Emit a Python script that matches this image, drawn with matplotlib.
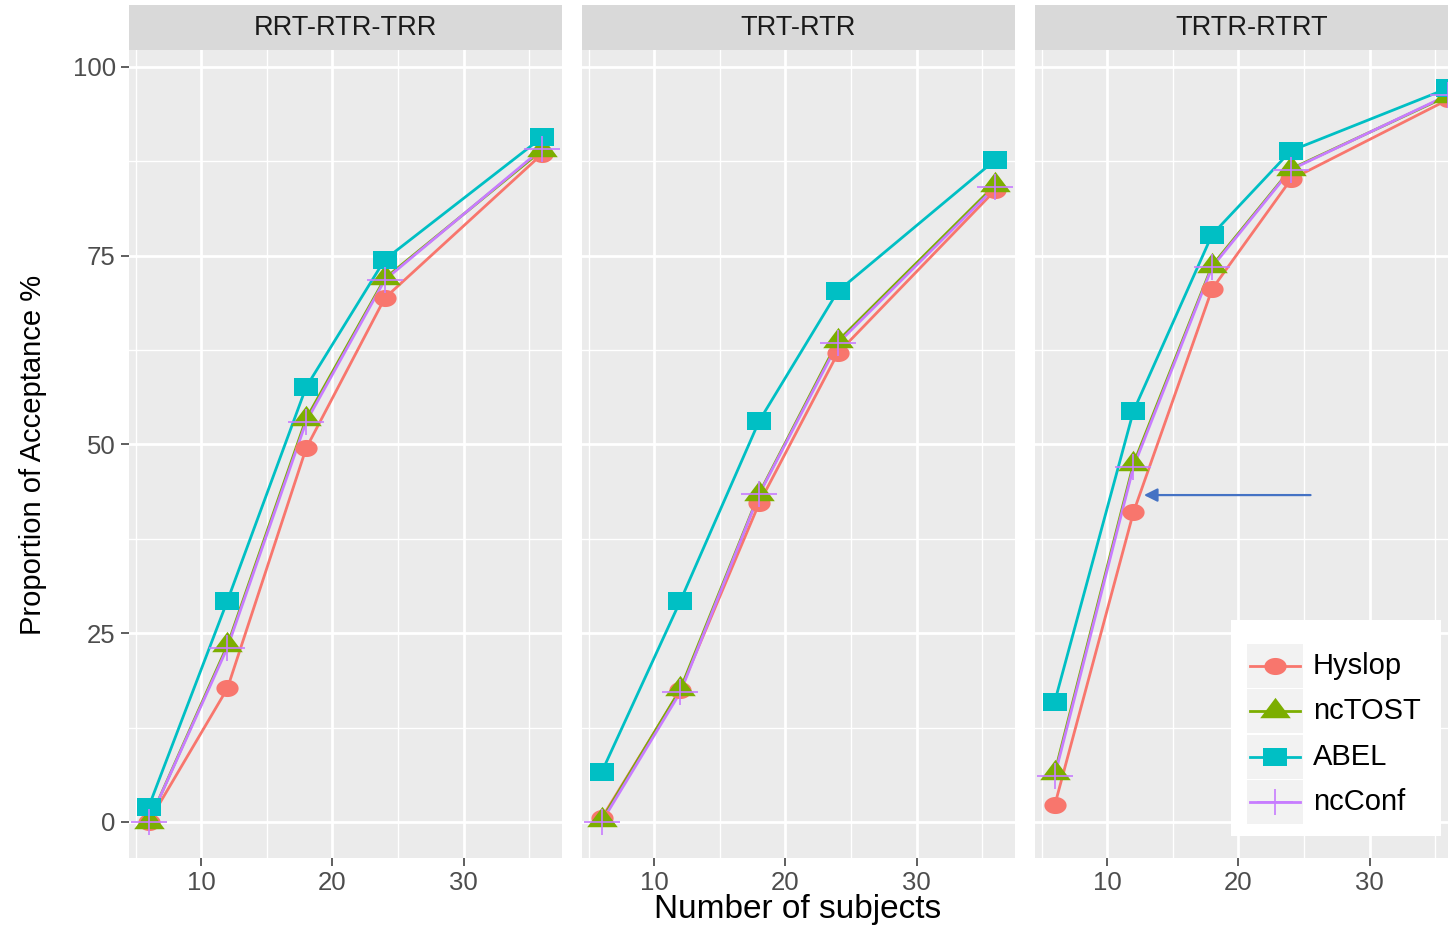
import numpy as np
import matplotlib
matplotlib.use("Agg")
import matplotlib.pyplot as plt
from matplotlib.path import Path
from matplotlib.lines import Line2D
from matplotlib.patches import Rectangle

plt.rcParams['font.family'] = ['Liberation Sans', 'DejaVu Sans']

# data
subjects = [6, 12, 18, 24, 36]
designs = ["RRT-RTR-TRR", "TRT-RTR", "TRTR-RTRT"]
methods = ["Hyslop", "ncTOST", "ABEL", "ncConf"]

hyslop = [[0.0, 17.7, 49.5, 69.4, 88.5],
          [0.5, 17.5, 42.2, 62.1, 83.7],
          [2.2, 41.0, 70.6, 85.1, 95.7]]
nctost = [[0.0, 23.4, 53.4, 72.0, 89.0],
          [0.3, 17.6, 43.5, 63.7, 84.4],
          [6.5, 47.4, 73.7, 86.5, 96.2]]
abel = [[2.0, 29.3, 57.6, 74.5, 90.7],
        [6.6, 29.3, 53.1, 70.3, 87.7],
        [15.9, 54.4, 77.8, 88.9, 97.2]]
ncconf = [[0.0, 23.1, 53.0, 71.8, 89.2],
          [0.0, 17.2, 43.4, 63.4, 84.1],
          [6.1, 47.0, 73.5, 86.4, 96.3]]
series = [hyslop, nctost, abel, ncconf]

colors = ["#F8766D", "#7CAE00", "#00BFC4", "#C77CFF"]

# markers (a bit wider than tall, like the reference)
t = np.linspace(0, 2 * np.pi, 60)
ellipse = Path(np.column_stack([1.3 * np.cos(t), np.sin(t)]))
square = Path([(-1.33, -1), (1.33, -1), (1.33, 1), (-1.33, 1), (-1.33, -1)])
triangle = Path([(0, 0.67), (0.75, -0.33), (-0.75, -0.33), (0, 0.67)])
plus = Path([(-0.72, 0), (0.72, 0), (0, -0.5), (0, 0.5)],
            [Path.MOVETO, Path.LINETO, Path.MOVETO, Path.LINETO])
mstyles = [
    dict(marker=ellipse, markersize=16, markeredgewidth=0),
    dict(marker=triangle, markersize=22, markeredgewidth=0),
    dict(marker=square, markersize=17, markeredgewidth=0),
    dict(marker=plus, markersize=26, markeredgewidth=1.2, markerfacecolor="none"),
]

W, H = 1448, 927
fig = plt.figure(figsize=(W / 100, H / 100), dpi=100)
fig.patch.set_facecolor("white")

lefts = [129, 582, 1035]
pw, ptop, pbot = 433, 50, 858

axes = []
for i, design in enumerate(designs):
    ax = fig.add_axes([lefts[i] / W, 1 - pbot / H, pw / W, (pbot - ptop) / H])
    ax.set_facecolor("#EBEBEB")
    for s in ax.spines.values():
        s.set_visible(False)
    ax.set_xlim(4.5, 37.5)
    ax.set_ylim(-4.77, 102.25)
    ax.set_xticks([10, 20, 30])
    ax.set_xticks([5, 15, 25, 35], minor=True)
    ax.set_yticks([0, 25, 50, 75, 100])
    ax.set_yticks([12.5, 37.5, 62.5, 87.5], minor=True)
    ax.grid(which="major", color="white", linewidth=2.0)
    ax.grid(which="minor", color="white", linewidth=1.0)
    ax.set_axisbelow(True)
    ax.tick_params(which="major", length=5.5, width=1.1, color="#333333",
                   labelcolor="#4D4D4D", labelsize=18.5, pad=4)
    ax.tick_params(which="minor", length=0)
    if i > 0:
        ax.tick_params(axis="y", which="major", length=0, labelleft=False)

    for k in range(len(methods)):
        ax.plot(subjects, series[k][i], color=colors[k], linewidth=2.0, zorder=2)
    for k in range(len(methods)):
        ax.plot(subjects, series[k][i], linestyle="none", color=colors[k],
                zorder=3, clip_on=False, **mstyles[k])

    # facet strip
    fig.add_artist(Rectangle((lefts[i] / W, 1 - ptop / H), pw / W, 45 / H,
                             transform=fig.transFigure, facecolor="#D9D9D9",
                             edgecolor="none"))
    fig.text((lefts[i] + pw / 2) / W, 1 - 28 / H, design, ha="center", va="center",
             color="#1A1A1A", fontsize=19.5)
    axes.append(ax)

# arrow in the last panel
axes[2].annotate("", xy=(12.8, 43.3), xytext=(25.5, 43.3),
                 arrowprops=dict(arrowstyle="-|>", color="#4472C4", lw=1.6,
                                 mutation_scale=20, shrinkA=0, shrinkB=0))

fig.text(33 / W, 1 - 455 / H, "Proportion of Acceptance %", rotation=90,
         ha="center", va="center", color="black", fontsize=21)
fig.text(798 / W, 2 / H, "Number of subjects", ha="center", va="bottom",
         color="black", fontsize=24)

# legend drawn by hand (grey key boxes like ggplot)
def fx(px):
    return px / W


def fy(py):
    return 1 - py / H


fig.add_artist(Rectangle((fx(1231), fy(836)), 210 / W, 216 / H,
                         transform=fig.transFigure, facecolor="white",
                         edgecolor="none", zorder=4))
key_centers = [666, 711, 757, 802]
for k, name in enumerate(methods):
    yc = key_centers[k]
    fig.add_artist(Rectangle((fx(1247), fy(yc + 22)), 56 / W, 44 / H,
                             transform=fig.transFigure, facecolor="#F2F2F2",
                             edgecolor="none", zorder=5))
    fig.add_artist(Line2D([fx(1250), fx(1300)], [fy(yc), fy(yc)],
                          transform=fig.transFigure, color=colors[k],
                          linewidth=2.0, zorder=6))
    fig.add_artist(Line2D([fx(1275)], [fy(yc)], transform=fig.transFigure,
                          color=colors[k], linestyle="none", zorder=7, **mstyles[k]))
    fig.text(fx(1313), fy(yc), name, ha="left", va="center", fontsize=21,
             color="black", zorder=8)

fig.savefig("out.png", dpi=100, facecolor=fig.get_facecolor())
